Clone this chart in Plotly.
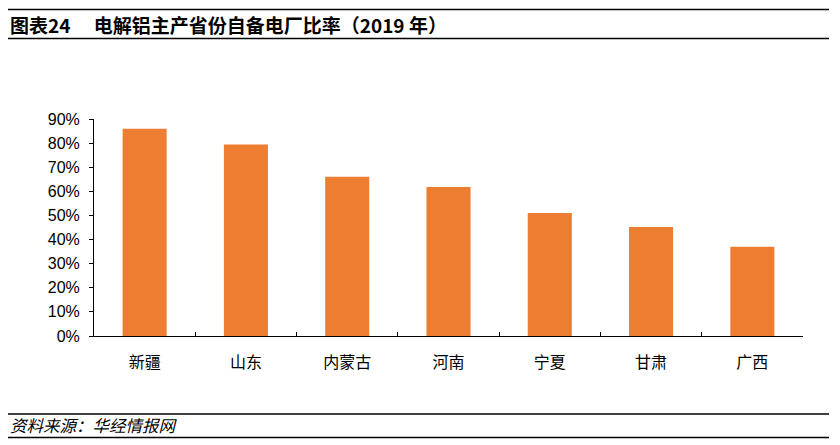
import plotly.graph_objects as go

categories = ["新疆", "山东", "内蒙古", "河南", "宁夏", "甘肃", "广西"]
values = [0.86, 0.794, 0.66, 0.618, 0.51, 0.452, 0.37]
y_ticks = [0, 0.1, 0.2, 0.3, 0.4, 0.5, 0.6, 0.7, 0.8, 0.9]
y_tick_labels = ["0%", "10%", "20%", "30%", "40%", "50%", "60%", "70%", "80%", "90%"]

OFF = 8  # page body margin
W, H = 832, 437
ML, MT = 94 - OFF, 119 - OFF
PW, PH = 709, 217
MR, MB = W - ML - PW, H - MT - PH

def px_x(x):
    return (x - OFF - ML) / PW

def px_y(y):
    return (MT + PH - (y - OFF)) / PH

fig = go.Figure(go.Bar(
    x=categories, y=values, marker_color="#ED7D31", marker_line_width=0,
))

shapes = []
for yy in [9.5, 38.5, 414, 437.5]:
    shapes.append(dict(type="line", xref="paper", yref="paper",
                       x0=px_x(8), x1=px_x(829), y0=px_y(yy), y1=px_y(yy),
                       line=dict(color="black", width=1.5)))

annotations = [
    dict(text="<b>图表24　 电解铝主产省份自备电厂比率（2019 年）</b>", xref="paper", yref="paper",
         x=px_x(8), y=px_y(24), xanchor="left", yanchor="middle", showarrow=False,
         font=dict(size=19, color="black", family="Noto Sans CJK SC")),
    dict(text="<i>资料来源：华经情报网</i>", xref="paper", yref="paper",
         x=px_x(8), y=px_y(425), xanchor="left", yanchor="middle", showarrow=False,
         font=dict(size=16.5, color="black", family="Noto Sans CJK SC")),
]

fig.update_layout(
    width=W, height=H,
    margin=dict(l=ML, r=MR, t=MT, b=MB, autoexpand=False),
    paper_bgcolor="white", plot_bgcolor="white",
    bargap=0.565,
    showlegend=False,
    shapes=shapes,
    annotations=annotations,
    font=dict(family="Liberation Sans, Noto Sans CJK SC", color="black"),
)
fig.update_xaxes(
    showline=True, linecolor="black", linewidth=1,
    ticks="inside", ticklen=4, tickcolor="black", tickson="boundaries",
    ticklabelstandoff=12,
    tickfont=dict(size=16, family="Noto Sans CJK SC", color="black"),
    showgrid=False, zeroline=False,
)
fig.update_yaxes(
    range=[0, 0.9], tickvals=y_ticks, ticktext=y_tick_labels,
    showline=True, linecolor="black", linewidth=1,
    ticks="outside", ticklen=4, tickcolor="black",
    ticklabelstandoff=6,
    tickfont=dict(size=16, family="Liberation Sans", color="black"),
    showgrid=False, zeroline=False,
)

fig.write_html("out.html")
